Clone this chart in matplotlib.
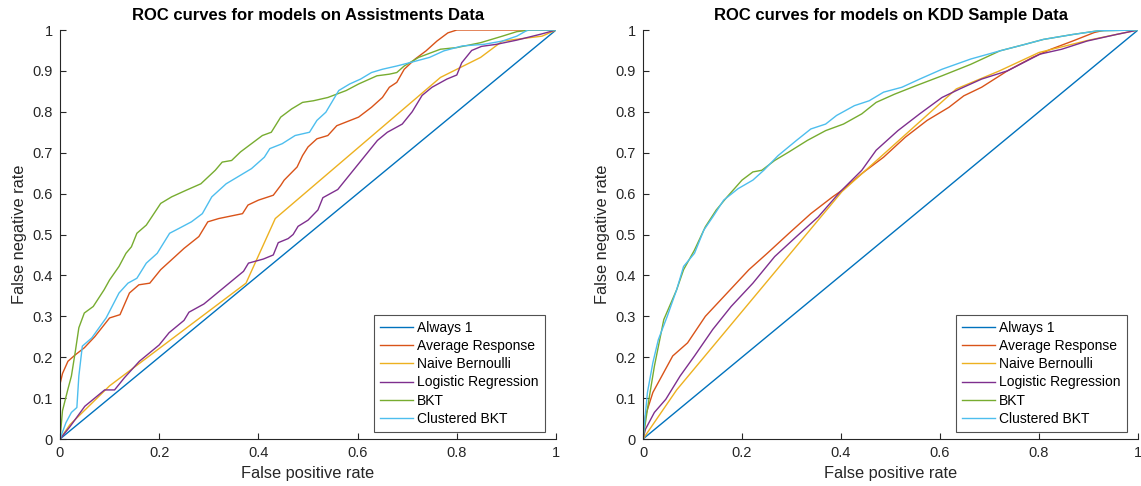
import matplotlib
matplotlib.use("Agg")
import matplotlib.pyplot as plt

plt.rcParams['font.family'] = ['Liberation Sans', 'DejaVu Sans']

labels = ["Always 1", "Average Response", "Naive Bernoulli",
          "Logistic Regression", "BKT", "Clustered BKT"]
colors = ["#0072BD", "#D95319", "#EDB120", "#7E2F8E", "#77AC30", "#4DBEEE"]

# ---------------- Assistments data ----------------
a_always_x = [0, 1]
a_always_y = [0, 1]

a_avg_x = [0, 0, 0.005, 0.016, 0.03, 0.049, 0.07, 0.1, 0.121, 0.14, 0.159, 0.181, 0.203,
           0.232, 0.25, 0.28, 0.298, 0.32, 0.368, 0.379, 0.4, 0.43, 0.445, 0.452, 0.478,
           0.489, 0.5, 0.518, 0.54, 0.558, 0.602, 0.628, 0.65, 0.664, 0.679, 0.694, 0.716,
           0.738, 0.76, 0.782, 0.8, 1.0]
a_avg_y = [0, 0.134, 0.16, 0.19, 0.205, 0.223, 0.25, 0.296, 0.304, 0.357, 0.377, 0.381, 0.414,
           0.446, 0.466, 0.495, 0.531, 0.539, 0.551, 0.572, 0.584, 0.596, 0.62, 0.633, 0.665,
           0.693, 0.714, 0.734, 0.742, 0.766, 0.787, 0.811, 0.835, 0.86, 0.872, 0.904, 0.929,
           0.949, 0.973, 0.993, 1.0, 1.0]

a_nb_x = [0, 0.02, 0.1, 0.375, 0.434, 0.767, 0.848, 0.892, 0.972, 1.0]
a_nb_y = [0, 0.035, 0.13, 0.381, 0.539, 0.884, 0.933, 0.973, 0.985, 1.0]

a_lr_x = [0, 0.02, 0.05, 0.08, 0.09, 0.11, 0.13, 0.16, 0.18, 0.2, 0.22, 0.25, 0.26, 0.29,
          0.31, 0.33, 0.35, 0.37, 0.38, 0.41, 0.43, 0.44, 0.46, 0.47, 0.48, 0.5, 0.52, 0.53,
          0.56, 0.58, 0.6, 0.62, 0.64, 0.66, 0.69, 0.71, 0.73, 0.75, 0.78, 0.8, 0.81, 0.83,
          0.85, 0.88, 0.92, 0.97, 1.0]
a_lr_y = [0, 0.03, 0.08, 0.11, 0.12, 0.12, 0.15, 0.19, 0.21, 0.23, 0.26, 0.29, 0.31, 0.33,
          0.35, 0.37, 0.39, 0.41, 0.43, 0.44, 0.45, 0.48, 0.49, 0.5, 0.52, 0.535, 0.56, 0.59,
          0.61, 0.64, 0.67, 0.7, 0.73, 0.75, 0.77, 0.8, 0.84, 0.86, 0.88, 0.89, 0.92, 0.95,
          0.96, 0.965, 0.975, 0.99, 1.0]

a_bkt_x = [0, 0.005, 0.016, 0.023, 0.031, 0.038, 0.049, 0.067, 0.089, 0.1, 0.119, 0.133,
           0.144, 0.155, 0.174, 0.185, 0.203, 0.225, 0.254, 0.284, 0.313, 0.327, 0.346, 0.364,
           0.386, 0.408, 0.426, 0.445, 0.467, 0.489, 0.511, 0.54, 0.577, 0.602, 0.639, 0.664,
           0.679, 0.694, 0.723, 0.767, 0.8, 0.848, 0.892, 0.921, 0.95, 1.0]
a_bkt_y = [0, 0.069, 0.122, 0.154, 0.215, 0.272, 0.308, 0.324, 0.365, 0.389, 0.422, 0.454,
           0.47, 0.503, 0.523, 0.543, 0.576, 0.592, 0.608, 0.624, 0.657, 0.677, 0.681, 0.702,
           0.722, 0.742, 0.75, 0.787, 0.807, 0.823, 0.827, 0.835, 0.852, 0.868, 0.888, 0.892,
           0.896, 0.912, 0.933, 0.953, 0.957, 0.969, 0.985, 0.996, 1.0, 1.0]

a_cbkt_x = [0, 0.012, 0.023, 0.034, 0.038, 0.045, 0.064, 0.093, 0.119, 0.137, 0.155, 0.174,
            0.196, 0.221, 0.24, 0.265, 0.287, 0.306, 0.335, 0.364, 0.386, 0.412, 0.423, 0.448,
            0.474, 0.503, 0.518, 0.536, 0.562, 0.584, 0.606, 0.628, 0.65, 0.679, 0.708, 0.745,
            0.774, 0.811, 0.855, 0.892, 0.921, 0.943, 1.0]
a_cbkt_y = [0, 0.04, 0.065, 0.077, 0.154, 0.227, 0.247, 0.296, 0.357, 0.381, 0.393, 0.43,
            0.454, 0.503, 0.515, 0.531, 0.551, 0.592, 0.624, 0.645, 0.661, 0.689, 0.71, 0.722,
            0.742, 0.75, 0.779, 0.799, 0.852, 0.868, 0.88, 0.896, 0.904, 0.912, 0.921, 0.933,
            0.949, 0.961, 0.965, 0.973, 0.985, 1.0, 1.0]

# ---------------- KDD sample data ----------------
k_always_x = [0, 1]
k_always_y = [0, 1]

k_avg_x = [0, 0.005, 0.02, 0.038, 0.06, 0.09, 0.126, 0.17, 0.214, 0.251, 0.295, 0.339, 0.383,
           0.402, 0.442, 0.486, 0.53, 0.574, 0.618, 0.648, 0.684, 0.736, 0.787, 0.824, 0.868,
           0.912, 0.934, 1.0]
k_avg_y = [0, 0.057, 0.114, 0.154, 0.203, 0.235, 0.3, 0.357, 0.414, 0.454, 0.503, 0.551, 0.592,
           0.608, 0.649, 0.689, 0.738, 0.779, 0.811, 0.839, 0.86, 0.9, 0.933, 0.953, 0.973,
           0.994, 1.0, 1.0]

k_nb_x = [0, 0.068, 0.402, 0.633, 0.72, 0.8, 0.9, 1.0]
k_nb_y = [0, 0.12, 0.605, 0.856, 0.9, 0.945, 0.975, 1.0]

k_lr_x = [0, 0.005, 0.023, 0.046, 0.075, 0.104, 0.141, 0.178, 0.222, 0.266, 0.31, 0.354, 0.398,
          0.442, 0.471, 0.515, 0.559, 0.604, 0.64, 0.684, 0.736, 0.802, 0.846, 0.897, 0.956, 1.0]
k_lr_y = [0, 0.024, 0.065, 0.097, 0.154, 0.203, 0.268, 0.324, 0.381, 0.446, 0.495, 0.543, 0.604,
          0.657, 0.706, 0.754, 0.795, 0.835, 0.856, 0.88, 0.9, 0.941, 0.953, 0.973, 0.989, 1.0]

k_bkt_x = [0, 0.012, 0.023, 0.042, 0.068, 0.082, 0.104, 0.126, 0.148, 0.17, 0.2, 0.222, 0.24,
           0.266, 0.295, 0.332, 0.369, 0.405, 0.442, 0.471, 0.508, 0.552, 0.604, 0.662, 0.721,
           0.772, 0.809, 0.868, 0.919, 1.0]
k_bkt_y = [0, 0.097, 0.178, 0.292, 0.365, 0.414, 0.462, 0.519, 0.56, 0.592, 0.633, 0.653, 0.657,
           0.681, 0.702, 0.73, 0.754, 0.77, 0.795, 0.823, 0.843, 0.864, 0.888, 0.916, 0.949,
           0.965, 0.977, 0.989, 0.998, 1.0]

k_cbkt_x = [0, 0.009, 0.02, 0.031, 0.049, 0.068, 0.082, 0.104, 0.123, 0.141, 0.163, 0.192,
            0.222, 0.244, 0.273, 0.31, 0.339, 0.369, 0.391, 0.427, 0.457, 0.486, 0.523, 0.559,
            0.604, 0.662, 0.721, 0.772, 0.809, 0.868, 0.919, 1.0]
k_cbkt_y = [0, 0.114, 0.187, 0.243, 0.3, 0.365, 0.422, 0.454, 0.511, 0.543, 0.584, 0.612,
            0.633, 0.657, 0.693, 0.73, 0.758, 0.77, 0.791, 0.815, 0.827, 0.848, 0.86, 0.88,
            0.904, 0.929, 0.949, 0.965, 0.977, 0.989, 0.998, 1.0]

panels = [
    ("ROC curves for models on Assistments Data",
     [(a_always_x, a_always_y), (a_avg_x, a_avg_y), (a_nb_x, a_nb_y),
      (a_lr_x, a_lr_y), (a_bkt_x, a_bkt_y), (a_cbkt_x, a_cbkt_y)]),
    ("ROC curves for models on KDD Sample Data",
     [(k_always_x, k_always_y), (k_avg_x, k_avg_y), (k_nb_x, k_nb_y),
      (k_lr_x, k_lr_y), (k_bkt_x, k_bkt_y), (k_cbkt_x, k_cbkt_y)]),
]

W, H = 1141, 486
fig = plt.figure(figsize=(W / 100, H / 100), dpi=100)
axes_px = [(60, 556), (643, 1138)]
top_px, bot_px = 30, 439

for (x0, x1), (title, series) in zip(axes_px, panels):
    ax = fig.add_axes([x0 / W, 1 - bot_px / H, (x1 - x0) / W, (bot_px - top_px) / H])
    for (xs, ys), lab, col in zip(series, labels, colors):
        ax.plot(xs, ys, color=col, lw=1.0, label=lab)
    ax.set_xlim(0, 1)
    ax.set_ylim(0, 1)
    ax.set_xticks([0, 0.2, 0.4, 0.6, 0.8, 1])
    ax.set_xticklabels(["0", "0.2", "0.4", "0.6", "0.8", "1"])
    ax.set_yticks([i / 10 for i in range(11)])
    ax.set_yticklabels(["0"] + [f"{i/10:g}" for i in range(1, 10)] + ["1"])
    for s in ["top", "right"]:
        ax.spines[s].set_visible(False)
    for s in ["left", "bottom"]:
        ax.spines[s].set_color("#262626")
        ax.spines[s].set_linewidth(0.8)
    ax.tick_params(direction="in", length=4, width=0.8, colors="#262626",
                   labelsize=10.5, pad=5)
    ax.set_title(title, fontsize=12, fontweight="bold", pad=7)
    ax.set_xlabel("False positive rate", fontsize=11.8, color="#262626", labelpad=4)
    ax.set_ylabel("False negative rate", fontsize=11.8, color="#262626", labelpad=4)
    leg = ax.legend(loc="lower right", bbox_to_anchor=(0.978, 0.017), borderaxespad=0,
                    fontsize=10, frameon=True, fancybox=False, handlelength=2.4,
                    handletextpad=0.3, labelspacing=0.3, borderpad=0.45)
    leg.get_frame().set_edgecolor("#262626")
    leg.get_frame().set_linewidth(0.8)

fig.savefig("out.png", dpi=100)
